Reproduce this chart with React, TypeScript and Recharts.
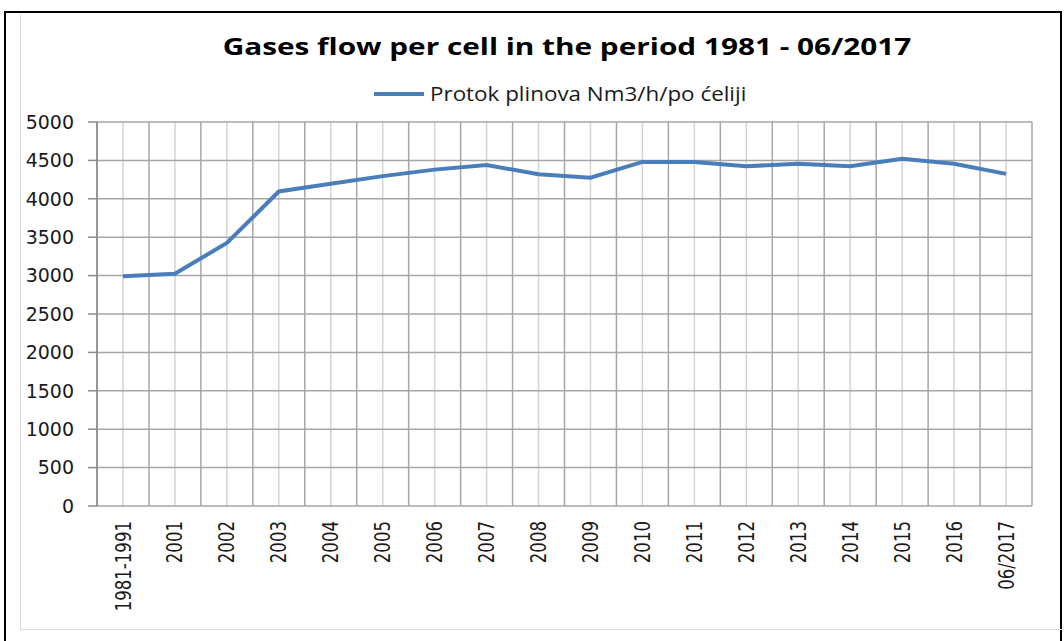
import { LineChart, Line, XAxis, YAxis, CartesianGrid, Legend } from 'recharts';

const categories = [
  '1981-1991', '2001', '2002', '2003', '2004', '2005', '2006', '2007', '2008',
  '2009', '2010', '2011', '2012', '2013', '2014', '2015', '2016', '06/2017'
];
const flow = [
  2990, 3025, 3425, 4095, 4195, 4295, 4380, 4440, 4320,
  4275, 4480, 4480, 4425, 4455, 4425, 4520, 4455, 4325
];
const yTicks = [0, 500, 1000, 1500, 2000, 2500, 3000, 3500, 4000, 4500, 5000];

const SERIES = 'Protok plinova Nm3/h/po ćeliji';
const BLUE = '#4a7ebb';

// category i sits in the middle of slot [i, i+1]
const data = categories.map((c, i) => ({ pos: i + 0.5, label: c, value: flow[i] }));
const centers = data.map(d => d.pos);
const bounds = categories.map((_, i) => i).concat(categories.length);

// map slot values to pixels with the axis scale (falls back to the plot offset)
const toPixels = (vals: number[]) => ({ xAxis, offset }: any) =>
  vals.map(v =>
    xAxis && typeof xAxis.scale === 'function'
      ? xAxis.scale(v)
      : offset.left + (v / categories.length) * offset.width
  );

const XTick = (props: any) => {
  const { x, y, payload } = props;
  const label = categories[Math.floor(payload.value)];
  return (
    <g transform={`translate(${x},${y + 15}) rotate(-90) scale(0.79,1)`}>
      <text x={0} y={0} dy="0.36em" textAnchor="end" fill="#1a1a1a"
        style={{ fontFamily: 'DejaVu Sans', fontSize: 21 }}>
        {label}
      </text>
    </g>
  );
};

const LegendBox = () => (
  <div style={{ display: 'flex', alignItems: 'center' }}>
    <svg width={56} height={10}>
      <line x1={0} y1={5} x2={50} y2={5} stroke={BLUE} strokeWidth={4} />
    </svg>
    <span style={{
      fontFamily: 'Open Sans', fontSize: 20, color: '#1a1a1a', whiteSpace: 'nowrap',
      display: 'inline-block', transform: 'scaleX(1.12)', transformOrigin: 'left center'
    }}>
      {SERIES}
    </span>
  </div>
);

export default function App() {
  return (
    <div style={{ position: 'fixed', left: 0, top: 0, width: 1064, height: 641, background: '#fff', overflow: 'hidden' }}>
      <div style={{ position: 'absolute', left: 4, top: 11, width: 1054, height: 640, border: '2px solid #000', borderBottom: 'none' }} />
      <div style={{ position: 'absolute', left: 20, top: 14, width: 1050, height: 615, borderLeft: '1px solid #d9d9d9', borderBottom: '1px solid #d9d9d9' }} />
      <div style={{
        position: 'absolute', left: 167, top: 29, width: 800, textAlign: 'center',
        fontFamily: 'Open Sans', fontWeight: 700, fontSize: 24, color: '#000', whiteSpace: 'nowrap',
        transform: 'scaleX(1.24)', transformOrigin: '400px 50%'
      }}>
        Gases flow per cell in the period 1981 - 06/2017
      </div>
      <div style={{ position: 'absolute', left: 0, top: 0 }}>
        <LineChart width={1064} height={641} data={data} margin={{ top: 122, right: 32, bottom: 0, left: 0 }}>
          <CartesianGrid
            xAxisId="c"
            horizontal={false}
            verticalCoordinatesGenerator={toPixels(centers)}
            stroke="#d4d4d4"
            strokeWidth={1.5}
          />
          <CartesianGrid
            xAxisId="b"
            verticalCoordinatesGenerator={toPixels(bounds)}
            stroke="#a6a6a6"
            strokeWidth={1.5}
          />
          <XAxis
            xAxisId="b"
            type="number"
            domain={[0, categories.length]}
            ticks={bounds}
            tick={false}
            tickSize={8}
            height={0}
            axisLine={{ stroke: '#8a8a8a', strokeWidth: 1.5 }}
            tickLine={{ stroke: '#8a8a8a', strokeWidth: 1.5 }}
          />
          <XAxis
            xAxisId="c"
            type="number"
            dataKey="pos"
            domain={[0, categories.length]}
            ticks={centers}
            interval={0}
            tick={<XTick />}
            tickLine={false}
            axisLine={false}
            tickSize={0}
            tickMargin={0}
            height={135}
          />
          <YAxis
            domain={[0, 5000]}
            ticks={yTicks}
            interval={0}
            width={97}
            tickSize={9}
            tickMargin={14}
            axisLine={{ stroke: '#8a8a8a', strokeWidth: 1.5 }}
            tickLine={{ stroke: '#8a8a8a', strokeWidth: 1.5 }}
            tick={{ fontFamily: 'DejaVu Sans', fontSize: 19, fill: '#1a1a1a' }}
          />
          <Legend
            layout="horizontal"
            verticalAlign="middle"
            align="center"
            content={<LegendBox />}
            wrapperStyle={{ position: 'absolute', top: 80, left: 374, width: 'auto' }}
          />
          <Line
            xAxisId="c"
            type="linear"
            dataKey="value"
            name={SERIES}
            stroke={BLUE}
            strokeWidth={4}
            dot={false}
            isAnimationActive={false}
          />
        </LineChart>
      </div>
    </div>
  );
}
